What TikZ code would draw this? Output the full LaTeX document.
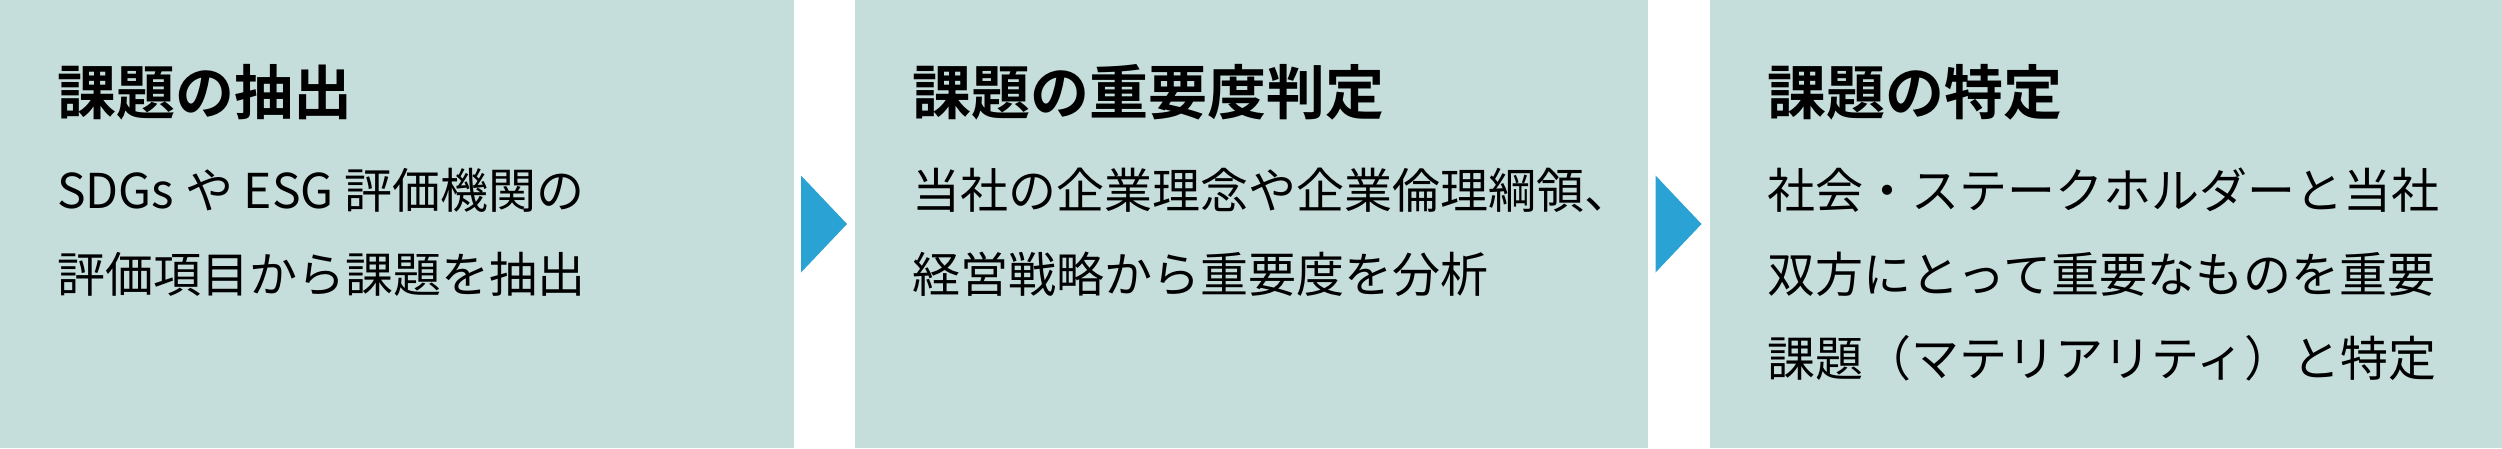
\documentclass[tikz,border=0pt]{standalone}
\usepackage{fontspec}
\usetikzlibrary{calc}
\setmainfont{Noto Sans CJK JP}[BoldFont={Noto Sans CJK JP Bold}]
\definecolor{boxbg}{RGB}{197,221,219}
\definecolor{arrowblue}{RGB}{43,162,212}
\tikzset{
  stagebox/.style={fill=boxbg, draw=none, inner sep=0pt, outer sep=0pt, minimum height=448pt, anchor=north west},
  titletext/.style={anchor=base west, inner sep=0pt, font=\fontsize{59}{70}\selectfont\bfseries, text=black},
  bodytext/.style={anchor=base west, inner sep=0pt, font=\fontsize{48}{84}\selectfont, text=black},
  stagearrow/.style={fill=arrowblue, draw=none}
}
\begin{document}
\begin{tikzpicture}[x=1pt,y=1pt]
\useasboundingbox (0,-448) rectangle (2502,0);
\node[stagebox, minimum width=794pt] (b1) at (0,0) {};
\node[stagebox, minimum width=793pt] (b2) at (855,0) {};
\node[stagebox, minimum width=792pt] (b3) at (1710,0) {};
% arrows
\fill[stagearrow] ($(b1.east)+(7,48.5)$) -- ($(b1.east)+(53,0)$) -- ($(b1.east)+(7,-48.5)$) -- cycle;
\fill[stagearrow] ($(b2.east)+(7.5,48.5)$) -- ($(b2.east)+(53.5,0)$) -- ($(b2.east)+(7.5,-48.5)$) -- cycle;
% box 1
\node[titletext] (t1) at ($(b1.north west)+(57,-114)$) {課題の抽出};
\node[bodytext] (t1a) at ($(b1.north west)+(57,-208)$) {SDGs や ESG 評価機関の};
\node[bodytext] (t1b) at ($(b1.north west)+(57,-292)$) {評価項目から課題を抽出};
% box 2
\node[titletext] (t2) at ($(b2.north west)+(57,-114)$) {課題の重要度判定};
\node[bodytext] (t2a) at ($(b2.north west)+(57,-208)$) {当社の企業理念や企業倫理綱領、};
\node[bodytext] (t2b) at ($(b2.north west)+(57,-292)$) {経営戦略から重要度を分析};
% box 3
\node[titletext] (t3) at ($(b3.north west)+(57,-114)$) {課題の特定};
\node[bodytext] (t3a) at ($(b3.north west)+(57,-208)$) {社会・ステークホルダーと当社};
\node[bodytext] (t3b) at ($(b3.north west)+(57,-292)$) {双方にとって重要なものを重要};
\node[bodytext] (t3c) at ($(b3.north west)+(57,-376)$) {課題（マテリアリティ）と特定};
\end{tikzpicture}
\end{document}
